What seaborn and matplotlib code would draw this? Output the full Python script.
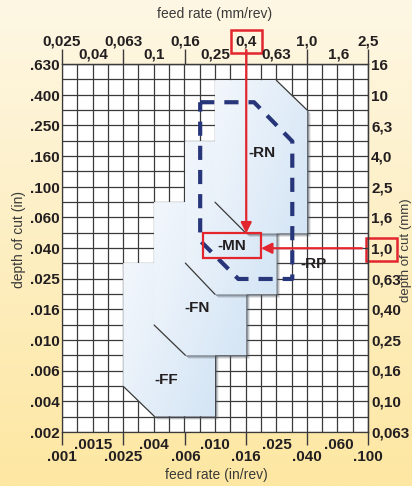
import numpy as np
import matplotlib
matplotlib.use("Agg")
import matplotlib.pyplot as plt
from matplotlib.patches import Polygon, Rectangle
from matplotlib.colors import LinearSegmentedColormap
from matplotlib.transforms import ScaledTranslation
import seaborn as sns

# feed rate axis, positions in mm/rev
feed_far = [0.025, 0.063, 0.16, 0.4, 1.0, 2.5]
feed_near = [0.04, 0.1, 0.25, 0.63, 1.6]
feed_mm_far_lbl = ["0,025", "0,063", "0,16", "0,4", "1,0", "2,5"]
feed_mm_near_lbl = ["0,04", "0,1", "0,25", "0,63", "1,6"]
feed_in_far_lbl = [".001", ".0025", ".006", ".016", ".040", ".100"]
feed_in_near_lbl = [".0015", ".004", ".010", ".025", ".060"]

# depth of cut axis, positions in mm
depth_mm = [16, 10, 6.3, 4.0, 2.5, 1.6, 1.0, 0.63, 0.40, 0.25, 0.16, 0.10, 0.063]
depth_mm_lbl = ["16", "10", "6,3", "4,0", "2,5", "1,6", "1,0", "0,63",
                "0,40", "0,25", "0,16", "0,10", "0,063"]
depth_in_lbl = [".630", ".400", ".250", ".160", ".100", ".060", ".040",
                ".025", ".016", ".010", ".006", ".004", ".002"]

# chipbreaker application areas (feed mm/rev, depth mm)
ff_feed = [0.063, 0.25, 0.25, 0.1, 0.063]
ff_depth = [0.8, 0.8, 0.08, 0.08, 0.125]
fn_feed = [0.1, 0.4, 0.4, 0.16, 0.1]
fn_depth = [2.0, 2.0, 0.2, 0.2, 0.315]
mn_feed = [0.16, 0.63, 0.63, 0.25, 0.16]
mn_depth = [5.0, 5.0, 0.5, 0.5, 0.8]
rn_feed = [0.25, 0.63, 1.0, 1.0, 0.4, 0.25]
rn_depth = [12.5, 12.5, 8.0, 1.25, 1.25, 2.0]
rp_feed = [0.2, 0.45, 0.8, 0.8, 0.355, 0.2, 0.2]
rp_depth = [9.0, 9.0, 5.0, 0.63, 0.63, 1.12, 9.0]

# example point: 0,4 mm/rev at 1,0 mm
sel_feed, sel_depth = 0.4, 1.0

RED = "#e3262e"
NAVY = "#27357a"
GRID = "#3a3a3a"
INK = "#231f20"

sns.set_theme(style="white")
plt.rcParams["font.family"] = ["Liberation Sans", "DejaVu Sans"]
NARROW = ["Liberation Sans Narrow", "Liberation Sans", "DejaVu Sans"]

fig = plt.figure(figsize=(4.12, 4.86), dpi=100)

# cream to yellow page background
bg = fig.add_axes([0, 0, 1, 1], zorder=-10)
bg_cmap = LinearSegmentedColormap.from_list("bg", ["#fef7e4", "#fde7a2"])
bg.imshow(np.linspace(0, 1, 256)[:, None], cmap=bg_cmap, aspect="auto",
          extent=(0, 1, 0, 1))
bg.axis("off")

ax = fig.add_axes([62 / 412, 54 / 486, 306 / 412, 368 / 486])
ax.set_facecolor("white")
ax.set_xscale("log")
ax.set_yscale("log")
xlim = (feed_far[0], feed_far[-1])
ylim = (depth_mm[-1], depth_mm[0])
ax.set_xlim(*xlim)
ax.set_ylim(*ylim)

# grid, ten cells per decade
for gx in np.logspace(np.log10(xlim[0]), np.log10(xlim[1]), 21):
    ax.axvline(gx, color=GRID, lw=0.9, zorder=1)
for gy in np.logspace(np.log10(ylim[0]), np.log10(ylim[1]), 25):
    ax.axhline(gy, color=GRID, lw=0.9, zorder=1)

shape_cmap = LinearSegmentedColormap.from_list("sh", ["#f3f7fc", "#d4e5f5"])


def draw_area(feed, depth, z, chamfers):
    pts = np.column_stack([feed, depth])
    for off, al in [(3.5, 0.18), (2.5, 0.25), (1.5, 0.35)]:
        sh = Polygon(pts, closed=True, fc="#4d545c", ec="none", alpha=al,
                     zorder=z - 0.5,
                     transform=ax.transData + ScaledTranslation(
                         off / 100, -off / 100, fig.dpi_scale_trans))
        ax.add_patch(sh)
    body = Polygon(pts, closed=True, fc="#dbe8f5", ec="none", zorder=z)
    ax.add_patch(body)
    a = ax.transAxes.inverted().transform(ax.transData.transform(pts))
    (x0, y0), (x1, y1) = a.min(0), a.max(0)
    gx, gy = np.meshgrid(np.linspace(0, 1, 64), np.linspace(0, 1, 64))
    im = ax.imshow(0.65 * gx + 0.35 * gy, cmap=shape_cmap,
                   extent=(x0, x1, y0, y1), transform=ax.transAxes,
                   aspect="auto", zorder=z + 0.1, interpolation="bilinear")
    im.set_clip_path(body)
    for i, j in chamfers:
        ax.plot([feed[i], feed[j]], [depth[i], depth[j]], color=GRID,
                lw=0.9, zorder=z + 0.2)


draw_area(ff_feed, ff_depth, 2, [(3, 4)])
draw_area(fn_feed, fn_depth, 3, [(3, 4)])
draw_area(mn_feed, mn_depth, 4, [(3, 4)])
draw_area(rn_feed, rn_depth, 5, [(1, 2), (4, 5)])

# RP outline
sns.lineplot(x=rp_feed, y=rp_depth, sort=False, estimator=None, ax=ax,
             color=NAVY, lw=3, linestyle=(0, (3.4, 2.4)), zorder=6)

lbl_kw = dict(ha="center", va="center", fontsize=11, fontweight="bold",
              color=INK, zorder=9)
ax.text(0.51, 4.2, "-RN", **lbl_kw)
ax.text(0.32, 1.04, "-MN", **lbl_kw)
ax.text(0.19, 0.41, "-FN", **lbl_kw)
ax.text(0.12, 0.138, "-FF", **lbl_kw)
ax.text(1.1, 0.785, "-RP", **lbl_kw)

# example reading: red box and arrows
ax.add_patch(Rectangle((0.21, 0.86), 0.5 - 0.21, 1.25 - 0.86, fill=False,
                       ec=RED, lw=1.6, zorder=10))
arr = dict(arrowstyle="-|>", mutation_scale=16, color=RED, lw=1.6,
           shrinkA=0, shrinkB=0)
ax.annotate("", xy=(sel_feed, 1.25), xytext=(sel_feed, 1.038),
            xycoords="data", textcoords=("data", "axes fraction"),
            arrowprops=arr, zorder=10, annotation_clip=False)
ax.annotate("", xy=(0.5, sel_depth), xytext=(0.98, sel_depth),
            xycoords="data", textcoords=("axes fraction", "data"),
            arrowprops=arr, zorder=10, annotation_clip=False)

tick_font = dict(family=NARROW, weight="bold", size=11, color=INK)

# bottom: in/rev
ax.set_xticks(feed_far, feed_in_far_lbl, **tick_font)
ax.set_xticks(feed_near, feed_in_near_lbl, minor=True, **tick_font)
ax.tick_params(axis="x", which="major", length=9.5, width=1, color=GRID,
               direction="out", pad=3.4, bottom=True)
ax.tick_params(axis="x", which="minor", length=0, pad=4.0, bottom=True)
# left: inch depth
ax.set_yticks(depth_mm, depth_in_lbl, **tick_font)
ax.set_yticks([], minor=True)
ax.tick_params(axis="y", which="major", length=0, pad=1.5, left=True)

# top: mm/rev
secx = ax.secondary_xaxis("top")
secx.set_xticks(feed_far, feed_mm_far_lbl, **tick_font)
secx.set_xticks(feed_near, feed_mm_near_lbl, minor=True, **tick_font)
secx.tick_params(axis="x", which="major", length=10.5, width=1, color=GRID,
                 direction="out", pad=0.8)
secx.tick_params(axis="x", which="minor", length=0, pad=1.6)
# right: mm depth
secy = ax.secondary_yaxis("right")
secy.set_yticks(depth_mm, depth_mm_lbl, **tick_font)
secy.set_yticks([], minor=True)
secy.tick_params(axis="y", which="major", length=0, pad=2.2)

for a_ in (ax, secx, secy):
    for sp in a_.spines.values():
        sp.set_color(GRID)
        sp.set_linewidth(0.9)

box = dict(boxstyle="square,pad=0.3", fc="none", ec=RED, lw=1.8)
secx.get_xticklabels()[feed_mm_far_lbl.index("0,4")].set_bbox(box)
secy.get_yticklabels()[depth_mm_lbl.index("1,0")].set_bbox(box)

lab = dict(fontsize=10, color="#3a3a3a")
fig.text(215 / 412, 1 - 14 / 486, "feed rate (mm/rev)", ha="center",
         va="center", **lab)
fig.text(216 / 412, 1 - 475 / 486, "feed rate (in/rev)", ha="center",
         va="center", **lab)
fig.text(19 / 412, 1 - 239 / 486, "depth of cut (in)", rotation=90,
         ha="center", va="center", **lab)
fig.text(406.5 / 412, 1 - 250 / 486, "depth of cut (mm)", rotation=90,
         ha="center", va="center", fontsize=9.5, color="#3a3a3a")

ax.set_xlim(*xlim)
ax.set_ylim(*ylim)
ax.set_xlabel("")
ax.set_ylabel("")

fig.savefig("out.png", dpi=100)
